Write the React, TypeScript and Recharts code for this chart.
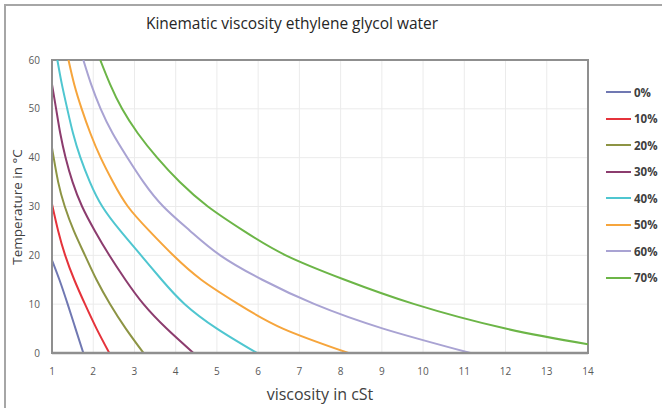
import React from 'react';
import {
  LineChart,
  Line,
  XAxis,
  YAxis,
  CartesianGrid,
  ReferenceArea,
} from 'recharts';

// viscosity (cSt) vs temperature (°C) for each glycol share
const glycol0 = [
  { v: 1.0, t: 19 },
  { v: 1.18, t: 15 },
  { v: 1.38, t: 10 },
  { v: 1.57, t: 5 },
  { v: 1.76, t: 0 },
];
const glycol10 = [
  { v: 1.0, t: 30.5 },
  { v: 1.15, t: 25 },
  { v: 1.32, t: 20 },
  { v: 1.54, t: 15 },
  { v: 1.8, t: 10 },
  { v: 2.08, t: 5 },
  { v: 2.39, t: 0 },
];
const glycol20 = [
  { v: 1.0, t: 42 },
  { v: 1.15, t: 35 },
  { v: 1.31, t: 30 },
  { v: 1.53, t: 25 },
  { v: 1.8, t: 20 },
  { v: 2.08, t: 15 },
  { v: 2.41, t: 10 },
  { v: 2.79, t: 5 },
  { v: 3.22, t: 0 },
];
const glycol30 = [
  { v: 1.0, t: 55 },
  { v: 1.1, t: 50 },
  { v: 1.2, t: 45 },
  { v: 1.33, t: 40 },
  { v: 1.5, t: 35 },
  { v: 1.73, t: 30 },
  { v: 2.04, t: 25 },
  { v: 2.39, t: 20 },
  { v: 2.78, t: 15 },
  { v: 3.22, t: 10 },
  { v: 3.78, t: 5 },
  { v: 4.43, t: 0 },
];
const glycol40 = [
  { v: 1.13, t: 60 },
  { v: 1.24, t: 55 },
  { v: 1.37, t: 50 },
  { v: 1.51, t: 45 },
  { v: 1.69, t: 40 },
  { v: 1.92, t: 35 },
  { v: 2.22, t: 30 },
  { v: 2.66, t: 25 },
  { v: 3.16, t: 20 },
  { v: 3.66, t: 15 },
  { v: 4.22, t: 10 },
  { v: 5.0, t: 5 },
  { v: 5.97, t: 0 },
];
const glycol50 = [
  { v: 1.4, t: 60 },
  { v: 1.54, t: 55 },
  { v: 1.72, t: 50 },
  { v: 1.93, t: 45 },
  { v: 2.18, t: 40 },
  { v: 2.48, t: 35 },
  { v: 2.84, t: 30 },
  { v: 3.36, t: 25 },
  { v: 3.94, t: 20 },
  { v: 4.62, t: 15 },
  { v: 5.52, t: 10 },
  { v: 6.6, t: 5 },
  { v: 8.19, t: 0 },
];
const glycol60 = [
  { v: 1.76, t: 60 },
  { v: 1.95, t: 55 },
  { v: 2.18, t: 50 },
  { v: 2.47, t: 45 },
  { v: 2.83, t: 40 },
  { v: 3.22, t: 35 },
  { v: 3.7, t: 30 },
  { v: 4.35, t: 25 },
  { v: 5.08, t: 20 },
  { v: 6.1, t: 15 },
  { v: 7.37, t: 10 },
  { v: 9.03, t: 5 },
  { v: 11.15, t: 0 },
];
const glycol70 = [
  { v: 2.17, t: 60 },
  { v: 2.41, t: 55 },
  { v: 2.7, t: 50 },
  { v: 3.08, t: 45 },
  { v: 3.55, t: 40 },
  { v: 4.1, t: 35 },
  { v: 4.78, t: 30 },
  { v: 5.65, t: 25 },
  { v: 6.67, t: 20 },
  { v: 8.1, t: 15 },
  { v: 9.79, t: 10 },
  { v: 12.0, t: 5 },
  { v: 14, t: 1.8 },
];

const seriesNames = ['0%', '10%', '20%', '30%', '40%', '50%', '60%', '70%'];
const seriesData = [glycol0, glycol10, glycol20, glycol30, glycol40, glycol50, glycol60, glycol70];
const colors = ['#7078b2', '#e5333b', '#8d9444', '#8c3c6e', '#4fc6d0', '#f6a53c', '#a9a3d3', '#6cb547'];

const xTicks = [1, 2, 3, 4, 5, 6, 7, 8, 9, 10, 11, 12, 13, 14];
const yTicks = [0, 10, 20, 30, 40, 50, 60];

const font = '"Open Sans", "DejaVu Sans", sans-serif';

export default function App() {
  return (
    <div style={{ position: 'absolute', left: 0, top: 0, width: 662, height: 408, background: '#fff', fontFamily: font, overflow: 'hidden' }}>
      <div
        style={{
          position: 'absolute',
          left: 4,
          top: 4,
          width: 700,
          height: 500,
          borderLeft: '2px solid #a6a6a6',
          borderTop: '2px solid #a6a6a6',
        }}
      />
      <div style={{ position: 'absolute', left: 0, width: 584, top: 12, textAlign: 'center', fontSize: 15.5, color: '#262626' }}>
        Kinematic viscosity ethylene glycol water
      </div>
      <div
        style={{
          position: 'absolute',
          left: 17,
          top: 207,
          transform: 'translate(-50%, -50%) rotate(-90deg)',
          whiteSpace: 'nowrap',
          fontSize: 13.5,
          color: '#404040',
        }}
      >
        Temperature in °C
      </div>
      <div style={{ position: 'absolute', left: 52, width: 536, top: 383, textAlign: 'center', fontSize: 16, color: '#404040' }}>
        viscosity in cSt
      </div>
      <LineChart
        width={662}
        height={408}
        margin={{ top: 60, right: 74, left: 0, bottom: 0 }}
        style={{ position: 'absolute', left: 0, top: 0 }}
      >
        <CartesianGrid stroke="#ebebeb" strokeWidth={1} />
        <ReferenceArea x1={1} x2={14} y1={0} y2={60} fill="none" stroke="#8f8f8f" strokeWidth={2} ifOverflow="visible" />
        <XAxis
          dataKey="v"
          type="number"
          domain={[1, 14]}
          ticks={xTicks}
          allowDataOverflow
          tickLine={false}
          axisLine={{ stroke: '#8f8f8f', strokeWidth: 2.5 }}
          tick={{ fontSize: 10, fill: '#595959', fontFamily: font }}
          tickMargin={9}
          height={55}
        />
        <YAxis
          type="number"
          domain={[0, 60]}
          ticks={yTicks}
          allowDataOverflow
          tickLine={false}
          axisLine={{ stroke: '#8f8f8f', strokeWidth: 2 }}
          tick={{ fontSize: 10, fill: '#595959', fontFamily: font }}
          tickMargin={6}
          width={52}
        />
        {seriesData.map((d, i) => (
          <Line
            key={seriesNames[i]}
            data={d}
            dataKey="t"
            name={seriesNames[i]}
            type="natural"
            stroke={colors[i]}
            strokeWidth={2}
            dot={false}
            isAnimationActive={false}
          />
        ))}
      </LineChart>
      {seriesNames.map((name, i) => (
        <div
          key={name}
          style={{ position: 'absolute', left: 606, top: 92 + i * 26.5 - 8, height: 16, display: 'flex', alignItems: 'center' }}
        >
          <div style={{ width: 25, height: 2, background: colors[i], marginRight: 3 }} />
          <span style={{ fontSize: 11.5, fontWeight: 'bold', color: '#404040' }}>{name}</span>
        </div>
      ))}
    </div>
  );
}
